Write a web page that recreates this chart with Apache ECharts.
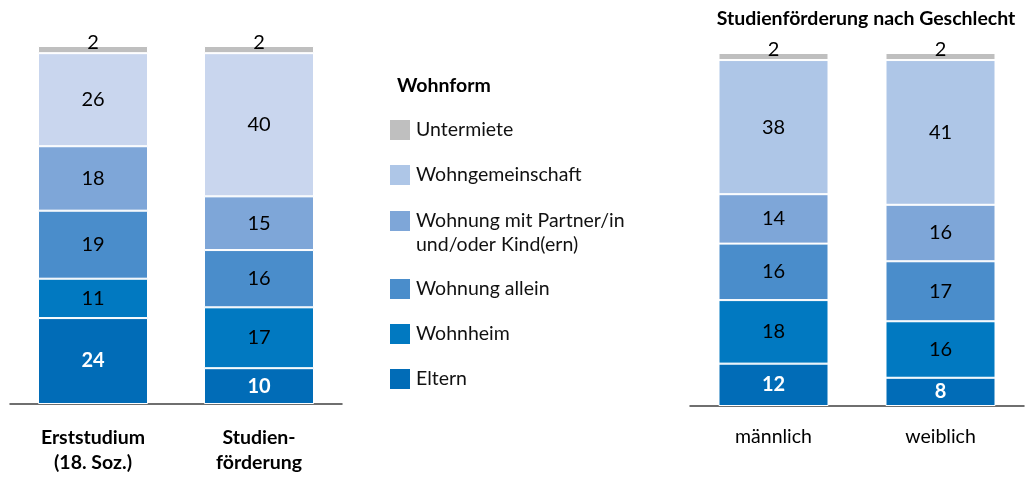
<!DOCTYPE html>
<html>
<head>
<meta charset="utf-8">
<script src="https://cdn.jsdelivr.net/npm/echarts@6/dist/echarts.min.js"></script>
<style>
  html, body { margin: 0; padding: 0; background: #fff; }
  #chart { width: 1026px; height: 477px; }
</style>
</head>
<body>
<div id="chart"></div>
<script>
// categories
var leftCategories = ['Erststudium\n(18. Soz.)', 'Studien-\nförderung'];
var rightCategories = ['männlich', 'weiblich'];

// Wohnform names (bottom to top in the stack)
var seriesNames = ['Eltern', 'Wohnheim', 'Wohnung allein', 'Wohnung mit Partner/in\nund/oder Kind(ern)', 'Wohngemeinschaft', 'Untermiete'];

// left chart values (Erststudium, Studienförderung)
var leftEltern = [24, 10];
var leftWohnheim = [11, 17];
var leftAllein = [19, 16];
var leftPartner = [18, 15];
var leftWG = [26, 40];
var leftUntermiete = [2, 2];

// right chart values (männlich, weiblich)
var rightEltern = [12, 8];
var rightWohnheim = [18, 16];
var rightAllein = [16, 17];
var rightPartner = [14, 16];
var rightWG = [38, 41];
var rightUntermiete = [2, 2];

var colors = ['#016cb7', '#0179c1', '#4a8dcb', '#7ea6d8', '#aec6e7', '#bfbfbf'];
var wgLeftColor = '#c9d6ee';
var FONT = 'Lato';

var leftData = [leftEltern, leftWohnheim, leftAllein, leftPartner, leftWG, leftUntermiete];
var rightData = [rightEltern, rightWohnheim, rightAllein, rightPartner, rightWG, rightUntermiete];

function makeSeries(data, idx, stack) {
    var series = [];
    for (var i = 0; i < seriesNames.length; i++) {
        var color = colors[i];
        if (idx === 0 && i === 4) color = wgLeftColor;
        var label = {
            show: true,
            position: 'inside',
            color: '#000',
            fontFamily: FONT,
            fontSize: 20
        };
        if (i === 0) {
            label.color = '#fff';
            label.fontWeight = 'bold';
        }
        if (i === 5) {
            label.position = 'top';
            label.distance = -7;
        }
        series.push({
            name: seriesNames[i],
            type: 'bar',
            stack: stack,
            xAxisIndex: idx,
            yAxisIndex: idx,
            barWidth: 110,
            data: data[i],
            itemStyle: { color: color, borderColor: '#fff', borderWidth: 1 },
            label: label,
            emphasis: { disabled: true }
        });
    }
    return series;
}

// legend, one per entry so the spacing can follow the reference
var legendTops = [118, 163, 185, 277, 322, 367];
var legends = [];
for (var k = 0; k < 6; k++) {
    var n = seriesNames[5 - k];
    var item = { name: n, itemStyle: { color: colors[5 - k] } };
    var lg = {
        left: 388,
        top: legendTops[k],
        padding: 0,
        orient: 'vertical',
        itemWidth: 22,
        itemHeight: 22,
        selectedMode: false,
        icon: 'rect',
        data: [item],
        textStyle: { fontFamily: FONT, fontSize: 19.5, lineHeight: 24, color: '#111' }
    };
    if (5 - k === 3) {
        // empty first line keeps the square level with the first text line
        lg.formatter = function (name) { return ' \n' + name; };
    }
    legends.push(lg);
}

var myChart = echarts.init(document.getElementById('chart'));

var option = {
    animation: false,
    title: [
        {
            text: 'Studienförderung nach Geschlecht',
            left: 861,
            top: 4,
            textAlign: 'center',
            textStyle: { fontFamily: FONT, fontSize: 19.5, fontWeight: 'bold', color: '#000' }
        },
        {
            text: 'Wohnform',
            left: 392,
            top: 71,
            textStyle: { fontFamily: FONT, fontSize: 19.5, fontWeight: 'bold', color: '#000' }
        }
    ],
    legend: legends,
    grid: [
        { left: 10, width: 332, top: 46, height: 358 },
        { left: 690, width: 334, top: 53, height: 353 }
    ],
    xAxis: [
        {
            type: 'category',
            gridIndex: 0,
            data: leftCategories,
            axisTick: { show: false },
            axisLine: { lineStyle: { color: '#404040', width: 1.5 } },
            axisLabel: { margin: 21, lineHeight: 25, fontFamily: FONT, fontSize: 19.5, fontWeight: 'bold', color: '#000' }
        },
        {
            type: 'category',
            gridIndex: 1,
            data: rightCategories,
            axisTick: { show: false },
            axisLine: { lineStyle: { color: '#404040', width: 1.5 } },
            axisLabel: { margin: 21, fontFamily: FONT, fontSize: 19.5, color: '#000' }
        }
    ],
    yAxis: [
        { type: 'value', gridIndex: 0, min: 0, max: 100, show: false },
        { type: 'value', gridIndex: 1, min: 0, max: 100, show: false }
    ],
    series: makeSeries(leftData, 0, 'left').concat(makeSeries(rightData, 1, 'right'))
};

myChart.setOption(option);
</script>
</body>
</html>
